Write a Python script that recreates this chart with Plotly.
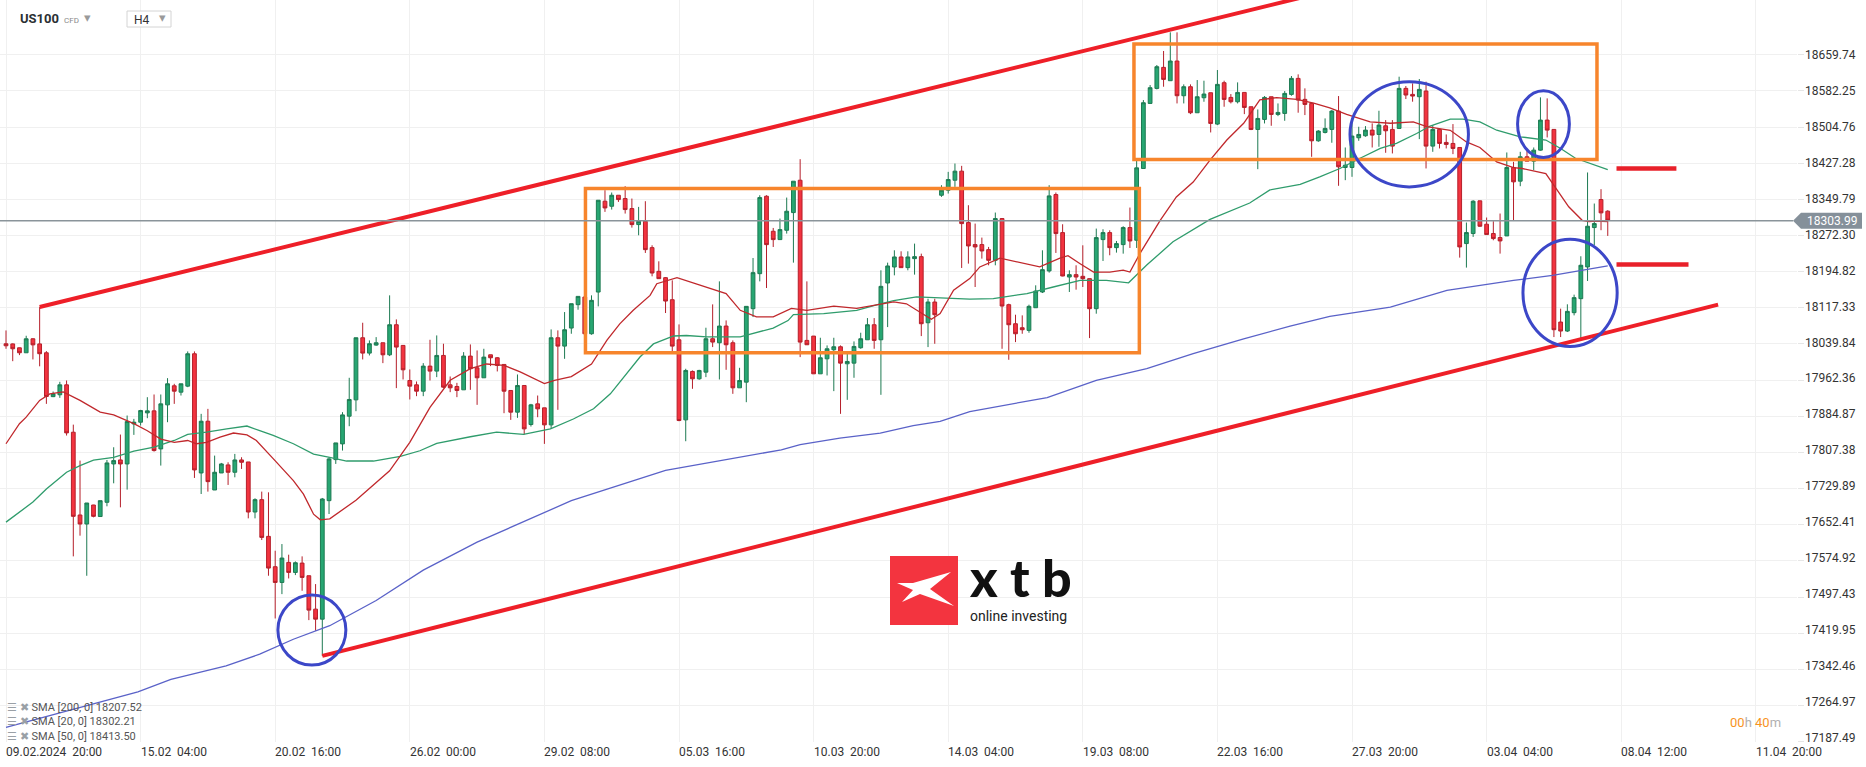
import plotly.graph_objects as go

# ---------------- data ----------------
ohlc_rows = [
    (18040.3, 18068.9, 18029.6, 18036.0), (18040.0, 18041.0, 18003.0, 18029.6),
    (18031.7, 18032.0, 18016.0, 18021.0), (18021.0, 18057.5, 18021.0, 18051.0),
    (18051.0, 18052.0, 18006.7, 18038.0), (18040.0, 18119.0, 17992.0, 18019.0),
    (18021.0, 18024.6, 17911.5, 17927.3), (17927.0, 17938.0, 17926.0, 17933.0),
    (17931.0, 17958.8, 17924.4, 17952.3), (17952.3, 17961.6, 17843.6, 17849.3),
    (17850.7, 17867.0, 17584.6, 17670.4), (17673.3, 17789.9, 17629.0, 17654.0),
    (17654.0, 17699.0, 17543.0, 17699.0), (17694.7, 17695.0, 17668.3, 17670.4),
    (17670.0, 17704.0, 17670.0, 17704.0), (17700.5, 17791.3, 17691.9, 17784.9),
    (17782.7, 17818.5, 17741.2, 17789.9), (17791.3, 17845.7, 17689.7, 17782.7),
    (17782.7, 17886.5, 17727.7, 17873.6), (17868.6, 17879.3, 17845.0, 17872.2),
    (17872.2, 17898.7, 17865.0, 17897.2), (17892.2, 17925.8, 17880.8, 17896.5),
    (17896.5, 17931.6, 17809.2, 17811.4), (17814.9, 17931.6, 17779.2, 17911.5),
    (17909.4, 17966.6, 17872.2, 17954.5), (17950.2, 17954.5, 17911.5, 17938.7),
    (17936.6, 17954.5, 17929.4, 17954.5), (17949.5, 18023.9, 17947.3, 18018.9),
    (18018.9, 18023.9, 17752.7, 17769.9), (17763.4, 17890.1, 17718.3, 17874.3),
    (17874.3, 17900.8, 17723.4, 17744.8), (17726.9, 17800.6, 17726.9, 17764.9),
    (17763.4, 17784.9, 17763.4, 17782.7), (17780.6, 17786.3, 17737.7, 17764.9),
    (17764.9, 17804.2, 17754.1, 17791.3), (17791.3, 17797.1, 17772.0, 17786.3),
    (17787.0, 17787.0, 17666.1, 17679.7), (17679.7, 17709.1, 17666.1, 17706.2),
    (17706.2, 17723.4, 17619.6, 17625.3), (17627.5, 17721.9, 17543.1, 17559.5),
    (17562.4, 17596.7, 17451.5, 17528.7), (17528.7, 17611.0, 17503.7, 17581.0),
    (17571.7, 17588.2, 17537.3, 17550.2), (17550.2, 17573.8, 17544.5, 17571.0),
    (17570.2, 17584.6, 17510.9, 17539.5), (17543.1, 17543.1, 17447.9, 17469.4),
    (17471.5, 17525.2, 17425.0, 17450.0), (17450.0, 17709.8, 17371.3, 17707.6),
    (17704.0, 17797.1, 17675.4, 17793.5), (17792.0, 17827.8, 17782.8, 17827.8),
    (17825.7, 17893.7, 17811.4, 17887.9), (17885.1, 17967.4, 17863.6, 17920.9),
    (17920.1, 18053.2, 17895.8, 18053.2), (18053.2, 18085.4, 18006.7, 18020.3),
    (18020.3, 18047.5, 18015.3, 18040.4), (18037.5, 18054.6, 18036.0, 18042.5),
    (18042.5, 18042.5, 17998.8, 18016.7), (18016.7, 18144.1, 18013.9, 18081.1),
    (18081.1, 18092.6, 17945.2, 18033.2), (18036.8, 18037.0, 17963.8, 17984.5),
    (17961.6, 17985.2, 17920.9, 17949.5), (17952.3, 17959.5, 17928.0, 17938.7),
    (17938.7, 17998.8, 17928.0, 17992.4), (17992.4, 18048.9, 17961.6, 17981.7),
    (17981.7, 18058.2, 17968.8, 18015.3), (18015.3, 18040.4, 17945.2, 17947.3),
    (17952.3, 17970.2, 17936.6, 17945.9), (17948.8, 17956.6, 17925.9, 17940.2),
    (17941.6, 18022.4, 17941.6, 18013.9), (18013.9, 18038.9, 17941.6, 17986.7),
    (17988.8, 18026.0, 17909.4, 17967.4), (17967.4, 18029.6, 17967.4, 18011.7),
    (18016.7, 18016.7, 17992.4, 18010.3), (18010.3, 18011.7, 17981.0, 17993.8),
    (17996.0, 17996.0, 17891.5, 17938.7), (17940.2, 17940.2, 17877.2, 17893.7),
    (17893.7, 17974.5, 17881.5, 17950.9), (17950.9, 17951.0, 17845.7, 17857.9),
    (17867.2, 17911.5, 17862.9, 17909.4), (17911.5, 17929.4, 17882.9, 17900.8),
    (17903.0, 17903.0, 17825.7, 17866.5), (17866.5, 18071.1, 17857.9, 18053.2),
    (18053.2, 18069.0, 17898.7, 18035.3), (18035.3, 18108.3, 18008.1, 18070.4),
    (18074.0, 18126.2, 18061.8, 18126.2), (18124.1, 18141.9, 18113.3, 18141.9),
    (18140.5, 18140.5, 18061.8, 18061.8), (18061.8, 18144.1, 18059.7, 18133.4),
    (18151.2, 18348.0, 18120.5, 18348.0), (18345.9, 18369.5, 18323.0, 18331.5),
    (18335.1, 18364.5, 18328.0, 18358.7), (18358.7, 18358.7, 18344.4, 18349.4),
    (18351.6, 18378.1, 18319.4, 18328.0), (18330.1, 18351.6, 18289.3, 18295.8),
    (18295.8, 18333.7, 18272.9, 18302.9), (18302.9, 18345.9, 18235.0, 18242.1),
    (18246.4, 18251.4, 18184.9, 18192.0), (18195.6, 18217.1, 18179.9, 18179.9),
    (18182.0, 18183.4, 18106.2, 18131.9), (18134.8, 18176.3, 18024.6, 18035.3),
    (18048.9, 18081.8, 17874.3, 17875.8), (17877.2, 17986.7, 17831.4, 17983.1),
    (17981.0, 17983.1, 17943.8, 17965.2), (17965.2, 17984.5, 17963.1, 17983.1),
    (17979.5, 18074.7, 17968.8, 18051.1), (18051.1, 18124.8, 18033.2, 18043.9),
    (18042.5, 18174.1, 17963.8, 18078.3), (18078.3, 18090.4, 17984.5, 18038.2),
    (18042.5, 18047.5, 17933.0, 17945.9), (17945.9, 17988.8, 17945.9, 17961.6),
    (17958.1, 18120.5, 17915.1, 18120.5), (18115.5, 18224.2, 18097.6, 18192.8),
    (18190.6, 18358.7, 18174.1, 18353.7), (18356.6, 18358.7, 18159.8, 18252.8),
    (18281.5, 18288.6, 18247.8, 18263.6), (18263.6, 18308.7, 18263.6, 18285.0),
    (18283.6, 18353.7, 18276.5, 18324.4), (18321.5, 18388.8, 18214.2, 18388.8),
    (18390.9, 18436.0, 18011.7, 18043.9), (18047.5, 18174.1, 18038.2, 18038.2),
    (18056.8, 18057.0, 17975.9, 17975.9), (17975.9, 18053.2, 17975.9, 18010.3),
    (18008.1, 18036.8, 17972.4, 18029.6), (18027.5, 18053.2, 17938.8, 18033.9),
    (18033.9, 18036.8, 17890.1, 17998.8), (17997.4, 18024.6, 17920.1, 18002.4),
    (17998.8, 18045.4, 17967.4, 18034.6), (18031.8, 18064.0, 18029.6, 18051.1),
    (18048.9, 18095.4, 18048.9, 18081.1), (18081.1, 18095.4, 18029.6, 18047.5),
    (18048.9, 18197.8, 17930.9, 18163.4), (18170.6, 18214.2, 18076.1, 18207.1),
    (18204.9, 18240.7, 18187.0, 18226.4), (18226.4, 18238.5, 18203.5, 18203.5),
    (18203.5, 18238.5, 18197.8, 18226.4), (18222.8, 18255.0, 18188.5, 18227.1),
    (18227.1, 18233.5, 18056.8, 18083.3), (18085.4, 18136.9, 18033.2, 18129.8),
    (18129.8, 18136.9, 18040.3, 18102.6), (18358.7, 18380.2, 18355.2, 18369.5),
    (18369.5, 18408.8, 18362.3, 18392.4), (18390.9, 18426.7, 18376.6, 18410.3),
    (18410.3, 18421.7, 18202.8, 18297.9), (18300.1, 18337.3, 18212.1, 18250.0),
    (18252.9, 18297.9, 18162.0, 18247.9), (18252.9, 18267.9, 18222.8, 18239.3),
    (18242.1, 18247.9, 18208.5, 18219.2), (18219.2, 18321.6, 18208.5, 18308.7),
    (18308.7, 18308.7, 18029.6, 18121.2), (18124.1, 18126.2, 18006.0, 18081.1),
    (18083.3, 18102.6, 18043.9, 18061.8), (18074.7, 18101.2, 18061.8, 18070.4),
    (18069.0, 18124.1, 18064.0, 18120.5), (18117.6, 18165.6, 18117.6, 18153.4),
    (18151.3, 18240.7, 18149.1, 18199.2), (18196.4, 18380.2, 18192.8, 18357.3),
    (18360.2, 18364.5, 18235.0, 18276.5), (18278.6, 18296.5, 18184.9, 18185.6),
    (18183.4, 18197.8, 18151.3, 18188.5), (18188.5, 18208.5, 18156.3, 18183.4),
    (18184.9, 18251.4, 18162.0, 18179.9), (18179.9, 18180.0, 18052.5, 18115.5),
    (18115.5, 18287.2, 18104.8, 18267.9), (18263.6, 18285.8, 18217.8, 18278.6),
    (18278.6, 18283.6, 18230.0, 18246.4), (18246.4, 18260.7, 18235.7, 18255.0),
    (18252.9, 18292.2, 18233.5, 18289.4), (18289.4, 18332.3, 18245.7, 18260.7),
    (18262.2, 18433.9, 18245.7, 18417.4), (18416.0, 18562.7, 18416.0, 18557.0),
    (18555.5, 18594.9, 18555.5, 18589.2), (18587.7, 18637.8, 18585.6, 18634.2),
    (18632.8, 18667.9, 18591.3, 18607.0), (18604.2, 18707.9, 18604.2, 18646.4),
    (18646.4, 18707.9, 18555.5, 18572.0), (18572.0, 18596.3, 18555.5, 18591.3),
    (18591.3, 18596.3, 18532.6, 18535.5), (18535.5, 18605.6, 18535.5, 18569.8),
    (18567.7, 18604.2, 18559.1, 18575.6), (18578.4, 18578.4, 18493.3, 18512.6),
    (18511.2, 18627.1, 18509.0, 18596.3), (18599.9, 18604.2, 18548.4, 18564.1),
    (18568.4, 18575.6, 18555.5, 18559.1), (18559.1, 18600.6, 18555.5, 18579.1),
    (18579.1, 18579.1, 18532.6, 18546.9), (18548.4, 18548.4, 18498.3, 18499.7),
    (18499.7, 18542.6, 18414.6, 18523.3), (18521.2, 18571.3, 18512.6, 18568.4),
    (18569.8, 18569.8, 18507.6, 18531.9), (18531.9, 18555.5, 18528.3, 18536.2),
    (18534.1, 18582.0, 18518.3, 18577.0), (18574.9, 18614.3, 18572.0, 18609.2),
    (18609.2, 18617.8, 18535.6, 18562.7), (18564.2, 18587.8, 18530.5, 18553.4),
    (18555.6, 18557.0, 18441.1, 18475.4), (18475.4, 18498.3, 18473.3, 18496.2),
    (18493.3, 18523.4, 18491.2, 18501.9), (18499.8, 18541.3, 18471.2, 18539.1),
    (18539.1, 18571.3, 18378.9, 18419.6), (18418.2, 18461.1, 18391.0, 18423.2),
    (18418.2, 18523.4, 18398.2, 18485.5), (18481.9, 18505.5, 18475.4, 18489.0),
    (18486.2, 18506.9, 18484.0, 18498.3), (18498.3, 18512.7, 18461.1, 18487.6),
    (18489.0, 18539.8, 18462.6, 18509.1), (18507.6, 18519.8, 18449.7, 18496.9),
    (18499.8, 18519.8, 18448.3, 18464.0), (18501.9, 18612.8, 18501.9, 18587.8),
    (18587.8, 18592.8, 18564.9, 18573.5), (18574.9, 18598.5, 18559.2, 18571.3),
    (18569.9, 18607.8, 18479.0, 18585.6), (18582.1, 18602.1, 18416.1, 18464.0),
    (18464.0, 18509.1, 18451.8, 18499.8), (18499.8, 18501.9, 18459.0, 18469.7),
    (18471.9, 18489.0, 18459.0, 18467.6), (18469.7, 18511.2, 18446.8, 18459.0),
    (18461.1, 18461.1, 18225.0, 18247.9), (18255.1, 18300.2, 18203.6, 18278.7),
    (18276.6, 18348.1, 18269.4, 18345.9), (18346.7, 18347.0, 18290.8, 18292.3),
    (18296.6, 18310.9, 18274.4, 18274.4), (18276.6, 18303.0, 18262.2, 18265.8),
    (18268.0, 18319.5, 18233.6, 18260.8), (18271.5, 18450.4, 18271.5, 18418.2),
    (18418.2, 18430.4, 18305.2, 18387.4), (18388.9, 18451.8, 18378.1, 18441.1),
    (18441.1, 18459.0, 18431.8, 18431.8), (18431.8, 18461.1, 18412.5, 18455.4),
    (18455.4, 18568.5, 18454.0, 18519.8), (18519.8, 18566.3, 18482.6, 18498.3),
    (18499.8, 18500.0, 18054.7, 18070.5), (18086.9, 18115.6, 18054.7, 18067.6),
    (18067.6, 18124.9, 18065.5, 18109.8), (18107.0, 18145.6, 18101.2, 18139.2),
    (18137.0, 18227.9, 18051.2, 18208.6), (18205.0, 18407.5, 18174.9, 18292.3),
    (18289.4, 18340.9, 18251.5, 18298.0), (18349.5, 18371.7, 18283.7, 18320.9),
    (18324.5, 18326.6, 18271.5, 18305.2),
]
opens = [r[0] for r in ohlc_rows]
highs = [r[1] for r in ohlc_rows]
lows = [r[2] for r in ohlc_rows]
closes = [r[3] for r in ohlc_rows]
candle_idx = list(range(len(ohlc_rows)))

sma20_x = [0, 2, 3, 5, 6.5, 8.5, 11, 14, 16, 19, 21, 23, 25, 27, 28.3, 29.8, 31.8, 33.8, 35.8, 37.2,
           39.7, 42.7, 44.2, 45.7, 46.7, 48.1, 52, 57, 60, 63, 66, 69, 71.4, 74, 76.4, 80, 81.5, 84,
           87, 89.3, 91.2, 93.2, 95.7, 96.7, 99.7, 102.6, 105, 107, 109.1, 111.5, 114, 116.7, 119,
           123, 126.4, 128.9, 131.9, 133.8, 135.8, 137.5, 138.8, 140.8, 143.2, 144.7, 147.7, 151.7,
           153.6, 156.6, 157.8, 159.6, 161.6, 164, 166, 167, 168.5, 171.5, 173.9, 176.4, 178.9,
           181.4, 183.9, 186.3, 188.8, 191.8, 194.3, 196.7, 199.2, 202.7, 205.7, 209.1, 211.1,
           214.6, 217, 219, 221.5, 224, 225.3, 228.8, 229.8, 232.2, 234.2, 235.2, 236.2, 238]
sma20_y = [17826, 17869, 17883, 17919, 17933, 17937, 17919, 17894, 17888, 17869, 17854, 17836,
           17829, 17833, 17826, 17829, 17840, 17849, 17845, 17833, 17794, 17747, 17718, 17675,
           17663, 17665, 17705, 17768, 17829, 17904, 17962, 17987, 17997, 17994, 17980, 17955,
           17962, 17970, 17997, 18048, 18083, 18112, 18144, 18169, 18182, 18169, 18158, 18148,
           18112, 18098, 18098, 18116, 18112, 18121, 18116, 18123, 18130, 18126, 18108, 18093,
           18105, 18155, 18180, 18205, 18224, 18212, 18205, 18224, 18229, 18212, 18194, 18194,
           18198, 18194, 18234, 18305, 18355, 18387, 18434, 18477, 18513, 18563, 18568, 18564,
           18556, 18546, 18532, 18516, 18513, 18516, 18506, 18498, 18473, 18461, 18430, 18418,
           18416, 18405, 18384, 18334, 18305, 18302, 18303, 18302.21]

sma50_x = [0, 2, 4, 6, 9, 11, 13, 16, 19, 22, 25, 27, 29.8, 32.8, 35.8, 37.7, 39.7, 42.7, 45.7,
           48.1, 50.6, 54.6, 58.6, 61.5, 64, 69, 72.9, 76.9, 80.9, 84.3, 87.3, 89.8, 92.2, 94.2,
           96.2, 99.2, 101.1, 104.1, 109.1, 111.5, 114, 116.2, 117, 121.5, 126.4, 129.9, 131.9,
           135.3, 137.8, 140.8, 143.2, 146.7, 151.7, 155.6, 159.6, 163.5, 166.8, 169.5, 173.4,
           178.9, 184.8, 187.8, 190.8, 192.3, 195.2, 198.2, 201.2, 204.2, 206.6, 209.6, 211.6,
           214.6, 216.5, 219, 221.5, 222.3, 225, 228.8, 231, 233.2, 238]
sma50_y = [17658, 17679, 17701, 17729, 17765, 17779, 17791, 17797, 17810, 17819, 17833, 17846,
           17851, 17858, 17864, 17854, 17844, 17826, 17804, 17797, 17789, 17789, 17799, 17811,
           17827, 17841, 17851, 17846, 17858, 17879, 17901, 17933, 17976, 18012, 18040, 18057,
           18058, 18055, 18055, 18065, 18074, 18090, 18103, 18105, 18112, 18126, 18133, 18141,
           18139, 18137, 18136, 18137, 18148, 18162, 18176, 18176, 18171, 18209, 18259, 18307,
           18342, 18370, 18377, 18382, 18398, 18416, 18438, 18459, 18470, 18491, 18507, 18522,
           18522, 18516, 18498, 18495, 18484, 18477, 18459, 18438, 18413.5]

sma200_x = [0, 9, 19.6, 24.5, 32.7, 37.7, 42.7, 48.1, 55, 62, 70, 84, 98, 115.2, 118, 123.9,
            129.9, 134.8, 138.8, 143.2, 154.7, 162, 169.5, 176.4, 183.9, 190.8, 196.7, 205.7,
            214.1, 224, 229.8, 238]
sma200_y = [17218, 17253, 17294, 17321, 17350, 17375, 17407, 17436, 17490, 17555, 17615, 17704,
            17769, 17813, 17824, 17838, 17849, 17865, 17874, 17895, 17925, 17962, 17987, 18019,
            18051, 18078, 18099, 18119, 18155, 18176, 18187, 18207.52]

price_ticks = ["18659.74", "18582.25", "18504.76", "18427.28", "18349.79", "18272.30",
               "18194.82", "18117.33", "18039.84", "17962.36", "17884.87", "17807.38",
               "17729.89", "17652.41", "17574.92", "17497.43", "17419.95", "17342.46",
               "17264.97", "17187.49"]
time_tick_idx = [0, 20, 40, 60, 80, 100, 120, 140, 160, 180, 200, 220, 240, 260]
time_tick_labels = ["09.02.2024  20:00", "15.02  04:00", "20.02  16:00", "26.02  00:00",
                    "29.02  08:00", "05.03  16:00", "10.03  20:00", "14.03  04:00",
                    "19.03  08:00", "22.03  16:00", "27.03  20:00", "03.04  04:00",
                    "08.04  12:00", "11.04  20:00"]
last_price = 18303.99
legend_rows = ["SMA [200, 0] 18207.52", "SMA [20, 0] 18302.21", "SMA [50, 0] 18413.50"]

# ---------------- geometry ----------------
W, H = 1866, 767
PL, PR, PT, PB = 0, 1797, 0, 742          # plot area in pixels
X_RANGE = [-0.8915, 266.12]
Y_RANGE = [17186.7, 18777.2]


def px(x):
    return (x - PL) / (PR - PL)


def py(y):
    return 1 - (y - PT) / (PB - PT)


FONT = "Roboto"

fig = go.Figure()
fig.add_trace(go.Scatter(x=sma200_x, y=sma200_y, mode="lines",
                         line=dict(color="#5a62c8", width=1.3), hoverinfo="skip"))
fig.add_trace(go.Scatter(x=sma50_x, y=sma50_y, mode="lines",
                         line=dict(color="#2f9c6c", width=1.3), hoverinfo="skip"))
fig.add_trace(go.Scatter(x=sma20_x, y=sma20_y, mode="lines",
                         line=dict(color="#c0282c", width=1.3), hoverinfo="skip"))
fig.add_trace(go.Candlestick(
    x=candle_idx, open=opens, high=highs, low=lows, close=closes,
    increasing=dict(line=dict(color="#1d7a52", width=1), fillcolor="#27a672"),
    decreasing=dict(line=dict(color="#b51f2a", width=1), fillcolor="#f2333f"),
    whiskerwidth=0, hoverinfo="skip"))

shapes = []
RED = "#ee1f28"
# channel lines
shapes.append(dict(type="line", xref="x", yref="y", x0=5, y0=18119.0, x1=195, y1=18791.4,
                   line=dict(color=RED, width=4)))
shapes.append(dict(type="line", xref="x", yref="y", x0=47, y0=17371.3, x1=254.4, y1=18124.2,
                   line=dict(color=RED, width=4)))
# consolidation boxes
ORANGE = "#f7852c"
shapes.append(dict(type="rect", xref="x", yref="y", x0=86.1, x1=168.4, y0=18021.2, y1=18373.2,
                   line=dict(color=ORANGE, width=3.5)))
shapes.append(dict(type="rect", xref="x", yref="y", x0=167.6, x1=236.4, y0=18435.4, y1=18682.9,
                   line=dict(color=ORANGE, width=3.5)))
# ellipses
BLUE = "#3c47c8"
for (a, b, c, d) in [(40.4, 50.5, 17351.5, 17501.7), (199.7, 217.3, 18376.6, 18602.0),
                     (224.6, 232.3, 18439.7, 18582.7), (225.4, 239.4, 18034.7, 18264.4)]:
    shapes.append(dict(type="circle", xref="x", yref="y", x0=a, x1=b, y0=c, y1=d,
                       line=dict(color=BLUE, width=3)))
# short level markers
shapes.append(dict(type="line", xref="x", yref="y", x0=239.3, x1=248.2, y0=18416.1, y1=18416.1,
                   line=dict(color="#e8202a", width=4.5)))
shapes.append(dict(type="line", xref="x", yref="y", x0=239.3, x1=250.0, y0=18210.1, y1=18210.1,
                   line=dict(color="#e8202a", width=4.5)))
# current price line
shapes.append(dict(type="line", xref="paper", yref="y", x0=0, x1=px(1793), y0=last_price,
                   y1=last_price, line=dict(color="#8a949a", width=1.5)))
# price tag on the axis
yc = PB - (last_price - Y_RANGE[0]) / (Y_RANGE[1] - Y_RANGE[0]) * (PB - PT)
tag = "M {a},{m} L {b},{t} L {c},{t} L {c},{bt} L {b},{bt} Z".format(
    a=px(1793), b=px(1801), c=px(1862), m=py(yc), t=py(yc - 8), bt=py(yc + 8))
shapes.append(dict(type="path", xref="paper", yref="paper", path=tag,
                   fillcolor="#85909a", line=dict(width=0)))
# header timeframe box
shapes.append(dict(type="rect", xref="paper", yref="paper", x0=px(127), x1=px(171),
                   y0=py(27), y1=py(11), line=dict(color="#d4d4d4", width=1), fillcolor="white"))
# xtb logo
shapes.append(dict(type="rect", xref="paper", yref="paper", x0=px(890), x1=px(958),
                   y0=py(625), y1=py(556), line=dict(width=0), fillcolor="#f3343f"))
xpts = [(897, 583), (913, 583), (951, 572), (930, 589), (954, 606), (920, 594), (902, 602), (913, 590)]
xpath = "M " + " L ".join("{:.5f},{:.5f}".format(px(a), py(b)) for a, b in xpts) + " Z"
shapes.append(dict(type="path", xref="paper", yref="paper", path=xpath,
                   fillcolor="white", line=dict(width=0)))

ann = []
for i, lab in zip(time_tick_idx, time_tick_labels):
    ann.append(dict(x=i, xref="x", y=py(752), yref="paper", text=lab.replace(" ", "\u00a0"),
                    showarrow=False, xanchor="left", yanchor="middle", xshift=-1, borderpad=0,
                    font=dict(family=FONT, size=12, color="#333333")))
# price axis labels
n_ticks = len(price_ticks)
for k, t in enumerate(price_ticks):
    ann.append(dict(x=px(1804), xref="paper", y=float(t), yref="y", text=t,
                    showarrow=False, xanchor="left", yanchor="middle", borderpad=0,
                    yshift=3.5 * k / (n_ticks - 1),
                    font=dict(family=FONT, size=12, color="#333333")))
ann.append(dict(x=px(1832), y=py(yc), xref="paper", yref="paper", text="18303.99",
                showarrow=False, xanchor="center", yanchor="middle",
                font=dict(family=FONT, size=12, color="white")))
# header
ann.append(dict(x=px(18), y=py(19), xref="paper", yref="paper", text="<b>US100</b>",
                showarrow=False, xanchor="left", yanchor="middle",
                font=dict(family=FONT, size=13, color="#2b2f33")))
ann.append(dict(x=px(62), y=py(20), xref="paper", yref="paper", text="CFD",
                showarrow=False, xanchor="left", yanchor="middle",
                font=dict(family=FONT, size=8, color="#8a8a8a")))
ann.append(dict(x=px(82), y=py(18), xref="paper", yref="paper", text="▾",
                showarrow=False, xanchor="left", yanchor="middle",
                font=dict(family="DejaVu Sans", size=13, color="#9a9a9a")))
ann.append(dict(x=px(132), y=py(20), xref="paper", yref="paper", text="H4",
                showarrow=False, xanchor="left", yanchor="middle",
                font=dict(family=FONT, size=12, color="#333333")))
ann.append(dict(x=px(157), y=py(18), xref="paper", yref="paper", text="▾",
                showarrow=False, xanchor="left", yanchor="middle",
                font=dict(family="DejaVu Sans", size=13, color="#9a9a9a")))
# legend of indicators
for k, row in enumerate(legend_rows):
    ann.append(dict(x=px(5), y=py(707 + 14.5 * k), xref="paper", yref="paper",
                    text="<span style='color:#9aa0a6'>☰ ✖</span> " + row,
                    showarrow=False, xanchor="left", yanchor="middle",
                    font=dict(family=FONT, size=11, color="#555555")))
# countdown
ann.append(dict(x=px(1783), y=py(722), xref="paper", yref="paper",
                text="<span style='color:#f7931e'>00</span><span style='color:#b0b0b0'>h</span> "
                     "<span style='color:#f7931e'>40</span><span style='color:#b0b0b0'>m</span>",
                showarrow=False, xanchor="right", yanchor="middle",
                font=dict(family=FONT, size=13)))
# logo word mark and tagline
ann.append(dict(x=px(968), y=py(545), xref="paper", yref="paper", text="x t b",
                showarrow=False, xanchor="left", yanchor="top", borderpad=0,
                font=dict(family="Lato", size=52, color="#111111", weight=900)))
ann.append(dict(x=px(969), y=py(624.5), xref="paper", yref="paper", text="online investing",
                showarrow=False, xanchor="left", yanchor="bottom", borderpad=0,
                font=dict(family=FONT, size=14, color="#222222")))

fig.update_layout(
    width=W, height=H, margin=dict(l=PL, r=W - PR, t=PT, b=H - PB, pad=0),
    paper_bgcolor="white", plot_bgcolor="white", showlegend=False,
    boxgap=0.2, hovermode=False,
    shapes=shapes, annotations=ann,
    xaxis=dict(range=X_RANGE, tickvals=time_tick_idx, showticklabels=False, showgrid=True,
               gridcolor="#f0f0f0", gridwidth=1, zeroline=False, showline=False,
               rangeslider=dict(visible=False), fixedrange=True, automargin=False),
    yaxis=dict(range=Y_RANGE, side="right", tickvals=[float(t) for t in price_ticks],
               showticklabels=False, showgrid=True, gridcolor="#f0f0f0", gridwidth=1,
               zeroline=False, showline=False, ticks="outside", ticklen=6,
               tickcolor="#e6e6e6", fixedrange=True, automargin=False),
)

fig.write_html("out.html", config={"displayModeBar": False},
               post_script="document.body.style.margin='0';document.body.style.overflow='hidden';")
